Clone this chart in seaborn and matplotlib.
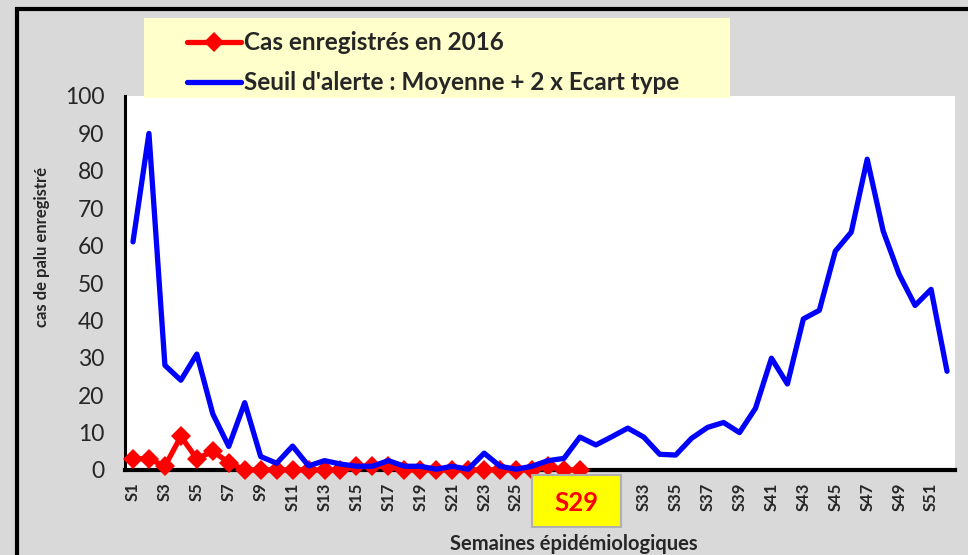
import matplotlib
matplotlib.use("Agg")
import matplotlib.pyplot as plt
from matplotlib.patches import Rectangle
import seaborn as sns
import pandas as pd

weeks = [f"S{i}" for i in range(1, 53)]
seuil = [61, 90, 28, 24, 31, 15, 6.3, 18, 3.6, 1.8, 6.4, 1.1, 2.5, 1.6, 1, 1,
         2.5, 1, 1, 0.2, 1, 0.2, 4.5, 1, 0.2, 1, 2.5, 3.1, 8.8, 6.7, 8.9, 11.2,
         8.8, 4.2, 4.0, 8.5, 11.4, 12.7, 10, 16.5, 29.9, 23, 40.4, 42.7, 58.5,
         63.6, 83.1, 63.9, 52.3, 44, 48.3, 26.4]
cas2016 = [3, 3, 1, 9, 3, 5, 2, 0, 0, 0, 0, 0, 0, 0, 1, 1, 1, 0, 0, 0, 0, 0,
           0, 0, 0, 0, 1, 0, 0]
current_week = "S29"
hidden_ticks = ["S27", "S29", "S31"]
label_red = "Cas enregistrés en 2016"
label_blue = "Seuil d'alerte : Moyenne + 2 x Ecart type"
ylabel = "cas de palu enregistré"
xlabel = "Semaines épidémiologiques"

sns.set_style("white")
plt.rcParams['font.family'] = ['Lato', 'DejaVu Sans']

W, H = 968, 555
fig = plt.figure(figsize=(W / 100, H / 100), dpi=100)
fig.patch.set_facecolor("#d9d9d9")

ax = fig.add_axes([125 / W, 1 - 470 / H, (955 - 125) / W, (470 - 96) / H])
ax.set_facecolor("white")

df_red = pd.DataFrame({"x": range(len(cas2016)), "y": cas2016})
df_blue = pd.DataFrame({"x": range(len(seuil)), "y": seuil})

sns.lineplot(data=df_red, x="x", y="y", ax=ax, color="#ff0000", lw=3.8,
             marker="D", markersize=10, markeredgewidth=0, clip_on=False,
             zorder=5, label=label_red)
sns.lineplot(data=df_blue, x="x", y="y", ax=ax, color="#0000ff", lw=3.8,
             clip_on=False, zorder=6, label=label_blue,
             solid_capstyle="round", solid_joinstyle="round")

ax.set_xlim(-0.5, 51.5)
ax.set_ylim(0, 100)
ax.set_yticks(range(0, 101, 10))
ax.set_yticklabels([str(v) for v in range(0, 101, 10)], fontsize=16.5)
ax.set_xticks(range(0, 52, 2))
ax.set_xticklabels(["" if w in hidden_ticks else w for w in weeks[::2]],
                   rotation=90, fontsize=12, fontweight="bold")
ax.tick_params(axis="y", length=0, pad=15)
ax.tick_params(axis="x", length=0, pad=9)
ax.set_xlabel("")
ax.set_ylabel("")
for s in ["top", "right"]:
    ax.spines[s].set_visible(False)
ax.spines["left"].set_linewidth(2.2)
ax.spines["bottom"].set_linewidth(3)
ax.spines["left"].set_color("black")
ax.spines["bottom"].set_color("black")
ax.grid(False)

handles, labels = ax.get_legend_handles_labels()
ax.get_legend().remove()

# legend background
fig.add_artist(Rectangle((144 / W, 1 - 98 / H), (730 - 144) / W, (98 - 18) / H,
                         transform=fig.transFigure, facecolor="#ffffcc",
                         edgecolor="none", zorder=4))
leg = fig.legend(handles, labels, loc="upper left",
                 bbox_to_anchor=(175 / W, 1 - 19 / H), frameon=False,
                 prop={"family": "Lato", "weight": "bold", "size": 17.5},
                 handlelength=2.2, handletextpad=0.15, labelspacing=0.7,
                 numpoints=1, borderpad=0)
leg.set_zorder(5)

# black frame (top and left)
fig.add_artist(Rectangle((17 / W, -0.2), 2, 1.2 - 9 / H,
                         transform=fig.transFigure, facecolor="none",
                         edgecolor="black", lw=3, zorder=3))

# current week box
fig.add_artist(Rectangle((532 / W, 1 - 527 / H), (621 - 532) / W, (527 - 475) / H,
                         transform=fig.transFigure, facecolor="#ffff00",
                         edgecolor="#b0b0b0", lw=1.5, zorder=10))
fig.text(576 / W, 1 - 503 / H, current_week, color="#ff0000", fontsize=18.5,
         fontweight="bold", ha="center", va="center", zorder=11)

fig.text(574 / W, 1 - 544 / H, xlabel, fontsize=14.5, fontweight="bold",
         ha="center", va="center")
fig.text(42 / W, 1 - 247 / H, ylabel, fontsize=12, fontweight="bold",
         ha="center", va="center", rotation=90)

fig.savefig("out.png", dpi=100, facecolor=fig.get_facecolor())
